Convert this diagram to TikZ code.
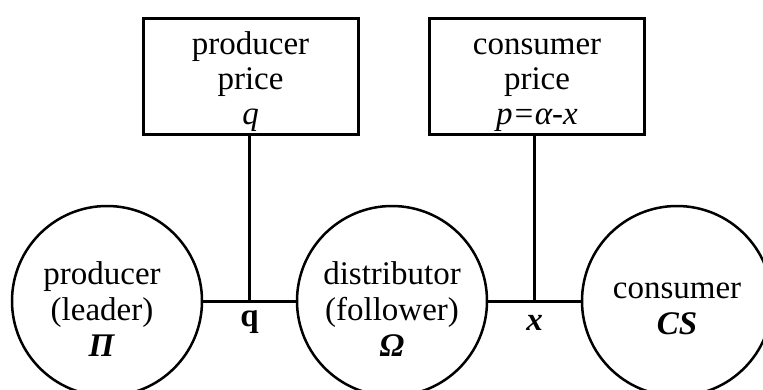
\documentclass[tikz,border=0pt]{standalone}
\usepackage{fontspec}
\setmainfont{Liberation Serif}
\usetikzlibrary{positioning}

\tikzset{
    party/.style={draw, circle, line width=2.5pt, minimum size=190pt, inner sep=0pt},
    partytext/.style={align=center, font=\fontsize{33}{36}\selectfont, yshift=-8pt},
    pricebox/.style={draw, rectangle, line width=3pt, minimum width=215pt,
        minimum height=116pt, inner sep=0pt},
    pricetext/.style={align=center, font=\fontsize{33}{35}\selectfont, yshift=-5pt},
    link/.style={line width=3pt},
    flow/.style={font=\fontsize{33}{36}\selectfont\bfseries, inner sep=0pt}
}

\begin{document}
\begin{tikzpicture}[x=1pt, y=-1pt]
    \useasboundingbox (0,0) rectangle (763,389);
    \clip (0,0) rectangle (763,389);

    % players
    \node[party, label={[partytext, xshift=-5pt]center:{producer\\(leader)\\\textbf{\textit{Π}}}}] (producer) at (107,301) {};
    \node[party, label={[partytext]center:{distributor\\(follower)\\\textbf{\textit{Ω}}}}] (distributor) at (392,301) {};
    \node[party, label={[partytext]center:{consumer\\\textbf{\textit{CS}}}}] (consumer) at (677,301) {};

    % quantities traded between them
    \draw[link] (producer) -- coordinate (jq) (distributor);
    \draw[link] (distributor) -- coordinate (jx) (consumer);
    \node[flow, below=9pt of jq] (qflow) {q};
    \node[flow, below=14pt of jx] (xflow) {\textit{x}};

    % prices (struts keep both first lines on one height)
    \node[pricebox, label={[pricetext]center:{\strut producer\\price\\\textit{q}}}] (pprice) at (250.5,76) {};
    \node[pricebox, label={[pricetext]center:{\strut consumer\\price\\\textit{p=α-x}}}] (cprice) at (537,76) {};
    \draw[link] (pprice.south -| jq) -- (jq);
    \draw[link] (cprice.south -| jx) -- (jx);
\end{tikzpicture}
\end{document}
